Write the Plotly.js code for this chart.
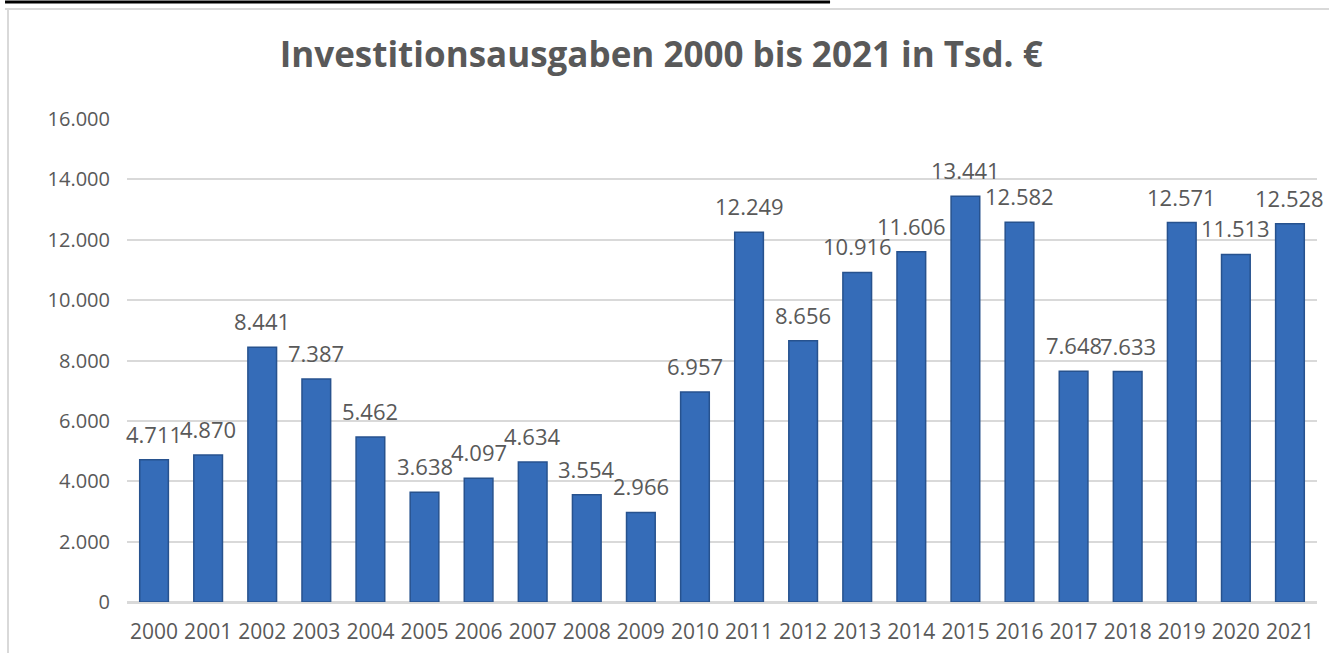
<!DOCTYPE html>
<html>
<head>
<meta charset="utf-8">
<script src="https://cdn.plot.ly/plotly-3.0.1.min.js"></script>
<style>
  html, body { margin: 0; padding: 0; background: #ffffff; }
  #chart { width: 1329px; height: 653px; }
</style>
</head>
<body>
<div id="chart"></div>
<script>
const years = ['2000','2001','2002','2003','2004','2005','2006','2007','2008','2009','2010',
               '2011','2012','2013','2014','2015','2016','2017','2018','2019','2020','2021'];
const investments = [4711, 4870, 8441, 7387, 5462, 3638, 4097, 4634, 3554, 2966, 6957,
                     12249, 8656, 10916, 11606, 13441, 12582, 7648, 7633, 12571, 11513, 12528];
const yTickValues = [0, 2000, 4000, 6000, 8000, 10000, 12000, 14000, 16000];
const chartTitle = 'Investitionsausgaben 2000 bis 2021 in Tsd. €';

function fmtDE(v) {
  return String(Math.round(v)).replace(/\B(?=(\d{3})+(?!\d))/g, '.');
}

const gray = '#595959';
const font = 'Open Sans, Noto Sans, Liberation Sans, sans-serif';

const trace = {
  type: 'bar',
  x: years,
  y: investments,
  marker: { color: '#356CB8', line: { color: '#27528E', width: 1.5 } },
  hoverinfo: 'x+y'
};

// category axis: annotation x uses the category serial number
const annotations = years.map((yr, i) => ({
  x: i, y: investments[i], xref: 'x', yref: 'y',
  text: fmtDE(investments[i]),
  showarrow: false, yanchor: 'bottom', xanchor: 'center', yshift: 9,
  font: { family: font, size: 22, color: gray }
}));

const layout = {
  width: 1329, height: 653,
  paper_bgcolor: '#ffffff', plot_bgcolor: '#ffffff',
  separators: ',.',
  margin: { l: 127, r: 12, t: 119, b: 51, pad: 0 },
  title: {
    text: '<b>' + chartTitle + '</b>',
    font: { family: font, size: 35, color: gray },
    x: 0.4975, xanchor: 'center', xref: 'container',
    y: 0.916, yanchor: 'middle', yref: 'container'
  },
  showlegend: false,
  bargap: 0.47,
  xaxis: {
    type: 'category',
    categoryorder: 'array', categoryarray: years,
    range: [-0.5, years.length - 0.5],
    tickfont: { family: font, size: 21, color: gray },
    showgrid: false, ticks: '', showline: true, linecolor: '#d9d9d9', linewidth: 2,
    ticklabelstandoff: 10, fixedrange: true
  },
  yaxis: {
    range: [0, 16000],
    tickvals: yTickValues,
    tickformat: ',d',
    tickfont: { family: font, size: 20, color: gray },
    showgrid: true, gridcolor: '#d9d9d9', gridwidth: 2,
    zeroline: true, zerolinecolor: '#d9d9d9', zerolinewidth: 2,
    ticks: '', showline: false, ticklabelstandoff: 16, fixedrange: true
  },
  annotations: annotations,
  shapes: [
    { type: 'line', xref: 'paper', yref: 'paper', x0: -0.1025, x1: 1.02, y0: 1.2277, y1: 1.2277,
      line: { color: '#d9d9d9', width: 2 } },
    { type: 'line', xref: 'paper', yref: 'paper', x0: -0.1, x1: -0.1, y0: 1.2277, y1: -0.11,
      line: { color: '#d9d9d9', width: 2 } },
    { type: 'line', xref: 'paper', yref: 'paper', x0: -0.1025, x1: 0.5908, y0: 1.242, y1: 1.242,
      line: { color: '#000000', width: 3 } }
  ]
};

Plotly.newPlot('chart', [trace], layout, { displayModeBar: false, staticPlot: true });
</script>
</body>
</html>
